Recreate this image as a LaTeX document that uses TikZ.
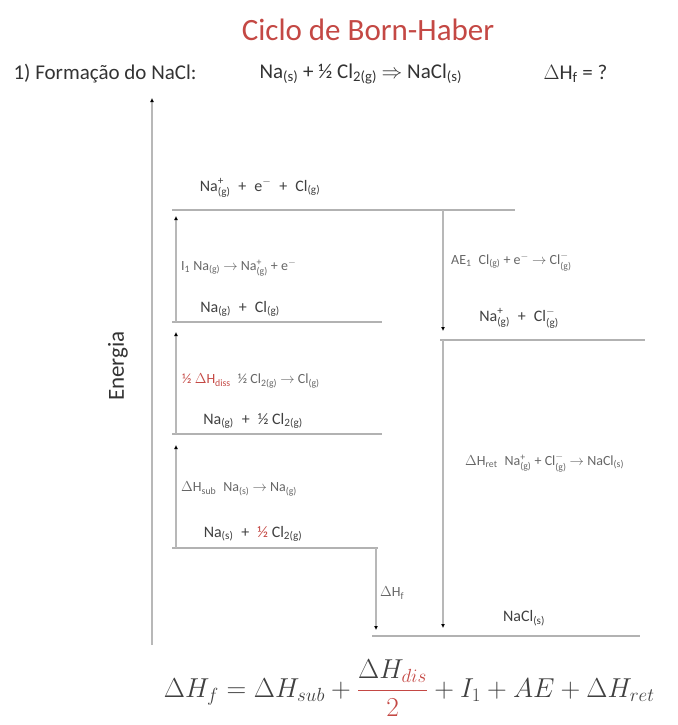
\documentclass[tikz,border=0pt]{standalone}
\usepackage{amsmath}
\usepackage{fontspec}
\setmainfont{Carlito}
\usepackage{tikz}
\usetikzlibrary{arrows.meta,positioning}
\definecolor{titlered}{RGB}{196,72,68}
\newcommand{\st}[1]{\textsubscript{#1}}
\newcommand{\su}[2]{$^{\text{#1}}_{\text{#2}}$}
\newcommand{\pl}{\enspace+\enspace}

\begin{document}
\begin{tikzpicture}[
  x=1pt, y=-1pt,
  font=\fontsize{10}{12}\selectfont,
  level/.style={draw=black!30, line width=1.6pt},
  jump/.style={draw=black!28, line width=1.4pt, -{Latex[length=4pt, width=4pt, color=black]}},
  species/.style={text=black!75, inner sep=1pt, font=\fontsize{16}{18}\selectfont},
  reac/.style={font=\fontsize{14}{16}\selectfont, text=black!60, anchor=west, inner sep=1pt},
  headline/.style={anchor=west, text=black!80, font=\fontsize{21}{24}\selectfont},
  redtxt/.style={text=titlered}
]
\useasboundingbox (0,0) rectangle (677,725);

% title and reaction
\node[redtxt, font=\fontsize{31}{34}\selectfont] (title) at (368,30) {Ciclo de Born-Haber};
\node[headline] (task) at (10,74) {1) Formação do NaCl:};
\node[headline] (eq) at (256,74) {Na\st{(s)} + ½ Cl\st{2(g)} $\Rightarrow$ NaCl\st{(s)}};
\node[headline] (dhf) at (540,74) {$\Delta$H\st{f} = ?};

% energy axis
\coordinate (axb) at (152,645);
\coordinate (axt) at (152,98);
\draw[jump, line width=1.6pt] (axb) -- (axt);
\node[rotate=90, text=black!80, font=\fontsize{23}{26}\selectfont] (energia) at (118,366) {Energia};

% levels
\coordinate (ionw) at (172,210); \coordinate (ione) at (515,210);
\coordinate (gasw) at (172,322); \coordinate (gase) at (382,322);
\coordinate (halfw) at (172,434); \coordinate (halfe) at (382,434);
\coordinate (solw) at (172,548); \coordinate (sole) at (378,548);
\coordinate (anw) at (440,340); \coordinate (ane) at (645,340);
\coordinate (salw) at (372,636); \coordinate (sale) at (640,636);
\draw[level] (ionw) -- (ione);
\draw[level] (gasw) -- (gase);
\draw[level] (halfw) -- (halfe);
\draw[level] (solw) -- (sole);
\draw[level] (anw) -- (ane);
\draw[level] (salw) -- (sale);

\node[species] (ionlab) at (260,188) {Na\su{+}{(g)}\pl e\textsuperscript{$-$}\pl Cl\st{(g)}};
\node[species] (gaslab) at (240,309) {Na\st{(g)}\pl Cl\st{(g)}};
\node[species] (halflab) at (253,421) {Na\st{(g)}\pl ½ Cl\st{2(g)}};
\node[species] (sollab) at (253,534) {Na\st{(s)}\pl\textcolor{titlered}{½} Cl\st{2(g)}};
\node[species] (anlab) at (519,318) {Na\su{+}{(g)}\pl Cl\su{$-$}{(g)}};
\node[species] (sallab) at (524,618) {NaCl\st{(s)}};

% steps
\coordinate (subb) at (176,548); \coordinate (subt) at (176,445);
\coordinate (disb) at (176,434); \coordinate (dist) at (176,332);
\coordinate (i1b) at (176,322); \coordinate (i1t) at (176,216);
\coordinate (aet) at (443,210); \coordinate (aeb) at (443,331);
\coordinate (rett) at (443,340); \coordinate (retb) at (443,628);
\coordinate (hft) at (376,548); \coordinate (hfb) at (376,630);
\draw[jump] (subb) -- (subt);
\draw[jump] (disb) -- (dist);
\draw[jump] (i1b) -- (i1t);
\draw[jump] (aet) -- (aeb);
\draw[jump] (rett) -- (retb);
\draw[jump] (hft) -- (hfb);

\node[reac] (i1lab) at (180,268) {I\st{1} Na\st{(g)} $\rightarrow$ Na\su{+}{(g)} + e\textsuperscript{$-$}};
\node[reac] (dislab) at (181,381) {\textcolor{titlered}{½ $\Delta$H\st{diss}}\; ½ Cl\st{2(g)} $\rightarrow$ Cl\st{(g)}};
\node[reac] (sublab) at (180,489) {$\Delta$H\st{sub}\; Na\st{(s)} $\rightarrow$ Na\st{(g)}};
\node[reac] (aelab) at (450,262) {AE\st{1}\; Cl\st{(g)} + e\textsuperscript{$-$} $\rightarrow$ Cl\su{$-$}{(g)}};
\node[reac] (retlab) at (464,463) {$\Delta$H\st{ret}\; Na\su{+}{(g)} + Cl\su{$-$}{(g)} $\rightarrow$ NaCl\st{(s)}};
\node[reac] (hflab) at (379,593) {$\Delta$H\st{f}};

% overall sum
\node[anchor=west, text=black!75, font=\fontsize{24}{28}\selectfont, scale=1.1] (sum) at (160,688)
  {$\Delta H_f = \Delta H_{sub} + {\color{titlered}\dfrac{\color{black!75}\Delta H_{\color{titlered}dis}}{2}} + I_1 + AE + \Delta H_{ret}$};
\end{tikzpicture}
\end{document}
